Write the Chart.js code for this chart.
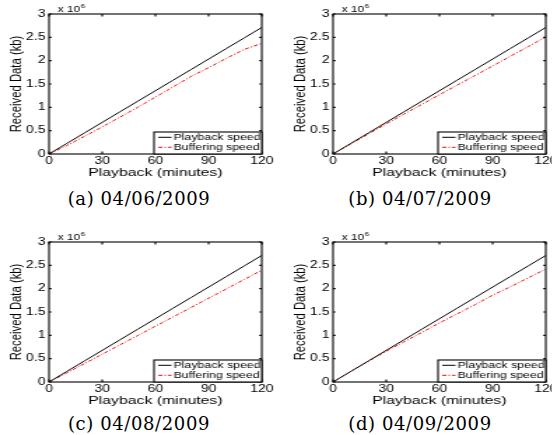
<!DOCTYPE html>
<html>
<head>
<meta charset="utf-8">
<script src="https://cdn.jsdelivr.net/npm/chart.js@4"></script>
<style>
  body { margin: 0; background: #fff; }
  #page { position: relative; width: 552px; height: 435px; overflow: hidden; background: #fff; }
  canvas { position: absolute; transform: scaleX(1.4); transform-origin: 0 0; }
  .cap { position: absolute; width: 276px; text-align: center; font-family: 'DejaVu Serif', serif;
         font-size: 18px; line-height: 20px; letter-spacing: 0.6px; color: #000; }
</style>
</head>
<body>
<div id="page">
  <canvas id="ca" width="197" height="180" style="left:0px;top:0px"></canvas>
  <canvas id="cb" width="197" height="180" style="left:284px;top:0px"></canvas>
  <canvas id="cc" width="197" height="180" style="left:0px;top:228px"></canvas>
  <canvas id="cd" width="197" height="180" style="left:284px;top:228px"></canvas>
  <div class="cap" id="capa" style="left:1px;top:189px"></div>
  <div class="cap" id="capb" style="left:282px;top:189px"></div>
  <div class="cap" id="capc" style="left:1px;top:414px"></div>
  <div class="cap" id="capd" style="left:282px;top:414px"></div>
</div>
<script>
// playback time in minutes
const minutes = [0, 10, 20, 30, 40, 50, 60, 70, 80, 90, 100, 110, 120];
// received data in kb
const playback = [0, 226000, 452000, 678000, 904000, 1130000, 1356000, 1582000, 1808000, 2034000, 2260000, 2486000, 2712000];
const bufferingA = [0, 180000, 380000, 580000, 790000, 1000000, 1220000, 1440000, 1660000, 1850000, 2050000, 2240000, 2370000];
const bufferingB = [0, 215000, 430000, 645000, 855000, 1060000, 1270000, 1475000, 1680000, 1885000, 2095000, 2300000, 2510000];
const bufferingC = [0, 195000, 395000, 595000, 795000, 995000, 1195000, 1395000, 1595000, 1795000, 1995000, 2195000, 2395000];
const bufferingD = [0, 225000, 445000, 660000, 860000, 1060000, 1265000, 1460000, 1655000, 1860000, 2040000, 2230000, 2420000];

const xTicks = [0, 30, 60, 90, 120];
const yTicks = [0, 500000, 1000000, 1500000, 2000000, 2500000, 3000000];
const yTickLabels = ['0', '0.5', '1', '1.5', '2', '2.5', '3'];
const captions = ['(a) 04/06/2009', '(b) 04/07/2009', '(c) 04/08/2009', '(d) 04/09/2009'];

const FONT = "'Liberation Sans', Arial, sans-serif";
Chart.defaults.font.family = FONT;
Chart.defaults.color = '#000';

// matlab style box, inward ticks, exponent and legend inside the axes
const framePlugin = {
    id: 'frame',
    afterDatasetsDraw(chart) {
        const ctx = chart.ctx;
        const a = chart.chartArea;
        const x = chart.scales.x, y = chart.scales.y;
        ctx.save();
        ctx.strokeStyle = '#000';
        ctx.lineWidth = 1.1;
        ctx.strokeRect(a.left, a.top, a.right - a.left, a.bottom - a.top);
        ctx.beginPath();
        xTicks.forEach(v => {
            const px = x.getPixelForValue(v);
            ctx.moveTo(px, a.bottom); ctx.lineTo(px, a.bottom - 2.5);
            ctx.moveTo(px, a.top); ctx.lineTo(px, a.top + 2.5);
        });
        yTicks.forEach(v => {
            const py = y.getPixelForValue(v);
            ctx.moveTo(a.left, py); ctx.lineTo(a.left + 1.8, py);
            ctx.moveTo(a.right, py); ctx.lineTo(a.right - 1.8, py);
        });
        ctx.stroke();

        // x 10^6
        ctx.fillStyle = '#000';
        ctx.textBaseline = 'alphabetic';
        ctx.font = '8.5px ' + FONT;
        ctx.fillText('x 10', a.left + 6.2, 12.3);
        const w = ctx.measureText('x 10').width;
        ctx.font = '6px ' + FONT;
        ctx.fillText('6', a.left + 6.5 + w, 7.8);

        // legend
        const bw = 77, bh = 22;
        const bx = a.right - bw, by = a.bottom - bh;
        ctx.fillStyle = '#fff';
        ctx.fillRect(bx, by, bw, bh);
        ctx.strokeRect(bx, by, bw, bh);
        ctx.font = '8.8px ' + FONT;
        ctx.textBaseline = 'middle';
        chart.data.datasets.forEach((ds, i) => {
            const cy = by + 5.3 + i * 10;
            ctx.strokeStyle = ds.borderColor;
            ctx.lineWidth = 1;
            ctx.setLineDash(ds.borderDash || []);
            ctx.beginPath();
            ctx.moveTo(bx + 3, cy); ctx.lineTo(bx + 12.5, cy);
            ctx.stroke();
            ctx.setLineDash([]);
            ctx.fillStyle = '#000';
            ctx.fillText(ds.label, bx + 14, cy + 0.5);
        });
        ctx.restore();
    }
};

function makePanel(id, buffering) {
    const ctx = document.getElementById(id).getContext('2d');
    return new Chart(ctx, {
        type: 'line',
        data: {
            datasets: [
                {
                    label: 'Playback speed',
                    data: minutes.map((m, i) => ({ x: m, y: playback[i] })),
                    borderColor: '#000',
                    borderWidth: 1,
                    pointRadius: 0,
                    fill: false,
                },
                {
                    label: 'Buffering speed',
                    data: minutes.map((m, i) => ({ x: m, y: buffering[i] })),
                    borderColor: '#ff0000',
                    borderWidth: 1,
                    borderDash: [3, 1.5, 1, 1.5],
                    pointRadius: 0,
                    fill: false,
                }
            ]
        },
        options: {
            responsive: false,
            animation: false,
            layout: { padding: { left: 0, right: 10, top: 14, bottom: 0 } },
            plugins: { legend: { display: false }, tooltip: { enabled: false } },
            scales: {
                x: {
                    type: 'linear',
                    min: 0,
                    max: 120,
                    afterBuildTicks: s => { s.ticks = xTicks.map(v => ({ value: v })); },
                    afterFit: s => { s.height = 26; },
                    grid: { display: false, drawTicks: false },
                    border: { display: false },
                    ticks: { padding: 1, maxRotation: 0, autoSkip: false, font: { size: 10 } },
                    title: { display: true, text: 'Playback (minutes)', font: { size: 11.3 }, padding: { top: 3, bottom: 0 } }
                },
                y: {
                    min: 0,
                    max: 3000000,
                    afterBuildTicks: s => { s.ticks = yTicks.map(v => ({ value: v })); },
                    afterFit: s => { s.width = 35; },
                    grid: { display: false, drawTicks: false },
                    border: { display: false },
                    ticks: {
                        padding: 2.5,
                        autoSkip: false,
                        font: { size: 10 },
                        callback: v => yTickLabels[yTicks.indexOf(v)]
                    },
                    title: { display: true, text: 'Received Data (kb)', font: { size: 11.3 }, padding: { top: 5.3, bottom: 0 } }
                }
            }
        },
        plugins: [framePlugin]
    });
}

makePanel('ca', bufferingA);
makePanel('cb', bufferingB);
makePanel('cc', bufferingC);
makePanel('cd', bufferingD);

['capa', 'capb', 'capc', 'capd'].forEach((id, i) => {
    document.getElementById(id).textContent = captions[i];
});
</script>
</body>
</html>
